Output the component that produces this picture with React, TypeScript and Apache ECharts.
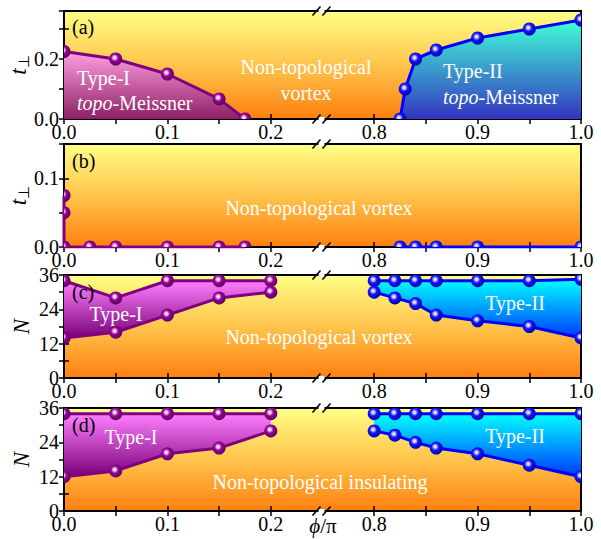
import React, { useEffect, useRef } from 'react';
import * as echarts from 'echarts';

const FONT = "'Liberation Serif', 'Times New Roman', Times, serif";

// ---- panel (a) ----
const phiA_I = [0, 0.05, 0.1, 0.15, 0.175];
const tA_I = [0.225, 0.2, 0.15, 0.067, 0];
const phiA_II = [0.825, 0.83, 0.84, 0.86, 0.9, 0.95, 1.0];
const tA_II = [0, 0.1, 0.2, 0.23, 0.27, 0.3, 0.33];
// ---- panel (b) ----
const phiB_I = [0, 0, 0, 0.025, 0.05, 0.1, 0.15, 0.175];
const tB_I = [0.075, 0.05, 0, 0, 0, 0, 0, 0];
const phiB_II = [0.825, 0.84, 0.86, 0.9, 1.0];
const tB_II = [0, 0, 0, 0, 0];
// ---- panel (c) ----
const phiC_I = [0, 0.05, 0.1, 0.15, 0.2];
const upC_I = [34, 28, 34, 34, 34];
const loC_I = [14, 16, 22, 28, 30];
const phiC_II = [0.8, 0.82, 0.84, 0.86, 0.9, 0.95, 1.0];
const upC_II = [34, 34, 34, 34, 34, 34, 34.5];
const loC_II = [30, 28, 26, 22, 20, 18, 14];
// ---- panel (d) ----
const phiD_I = [0, 0.05, 0.1, 0.15, 0.2];
const upD_I = [34, 34, 34, 34, 34];
const loD_I = [12, 14, 20, 22, 28];
const phiD_II = [0.8, 0.82, 0.84, 0.86, 0.9, 0.95, 1.0];
const upD_II = [34, 34, 34, 34, 34, 34, 34];
const loD_II = [28, 26.5, 24, 22, 20, 16, 12];

// axis ticks (real phi values)
const xTickValues = [0, 0.05, 0.1, 0.15, 0.2, 0.8, 0.85, 0.9, 0.95, 1.0];
const xLabelValues = [0, 0.1, 0.2, 0.8, 0.9, 1.0];
const panelLabels = ['(a)', '(b)', '(c)', '(d)'];

// broken axis: phi in [0,0.25] -> same, phi in [0.75,1] -> phi-0.5
const toAxis = (p: number) => (p > 0.5 ? p - 0.5 : p);
const fromAxis = (v: number) => (v > 0.25 ? v + 0.5 : v);
const BREAK = 0.25;

const GRIDS = [
  { top: 11, height: 108, yMax: 0.36, yInt: 0.1 },
  { top: 144, height: 103, yMax: 0.15, yInt: 0.05 },
  { top: 275, height: 103, yMax: 36, yInt: 6 },
  { top: 408, height: 103, yMax: 36, yInt: 6 },
];
const LEFT = 64;
const WIDTH = 517;

const PURPLE = '#800080';
const BLUE = '#0000FF';

const lin = (stops: [number, string][]) =>
  new echarts.graphic.LinearGradient(0, 0, 0, 1, stops.map(([offset, color]) => ({ offset, color })));

const sphere = (kind: 'p' | 'b') =>
  new echarts.graphic.RadialGradient(0.42, 0.4, 0.62, kind === 'p'
    ? [
        { offset: 0, color: '#ffffff' },
        { offset: 0.18, color: '#e8c8e8' },
        { offset: 0.45, color: '#960096' },
        { offset: 1, color: '#5a005a' },
      ]
    : [
        { offset: 0, color: '#ffffff' },
        { offset: 0.18, color: '#c8c8ff' },
        { offset: 0.45, color: '#1414ff' },
        { offset: 1, color: '#0000a8' },
      ]);

function lineSeries(gi: number, xs: number[], ys: number[], color: string, area?: any) {
  return {
    type: 'line',
    xAxisIndex: 2 * gi,
    yAxisIndex: 2 * gi,
    data: xs.map((p, i) => [toAxis(p), ys[i]]),
    symbol: 'none',
    showSymbol: false,
    lineStyle: { color, width: 3 },
    areaStyle: area ? { color: area, opacity: 1, origin: 'start' } : undefined,
    z: 3,
    silent: true,
  };
}

function markerSeries(gi: number, xs: number[], ys: number[], kind: 'p' | 'b') {
  return {
    type: 'custom',
    xAxisIndex: 2 * gi,
    yAxisIndex: 2 * gi,
    clip: true,
    z: 4,
    silent: true,
    data: xs.map((p, i) => [toAxis(p), ys[i]]),
    renderItem: (_params: any, api: any) => {
      const c = api.coord([api.value(0), api.value(1)]);
      return {
        type: 'circle',
        shape: { cx: c[0], cy: c[1], r: 6.5 },
        style: { fill: sphere(kind), stroke: 'none' },
      };
    },
  };
}

function bandSeries(gi: number, xs: number[], up: number[], lo: number[], fill: any) {
  return {
    type: 'custom',
    xAxisIndex: 2 * gi,
    yAxisIndex: 2 * gi,
    clip: true,
    z: 2,
    silent: true,
    data: [[toAxis(xs[0]), lo[0]]],
    renderItem: (_params: any, api: any) => {
      const top = xs.map((p, i) => api.coord([toAxis(p), up[i]]));
      const bot = xs.map((p, i) => api.coord([toAxis(p), lo[i]])).reverse();
      return { type: 'polygon', shape: { points: [...top, ...bot] }, style: { fill } };
    },
  };
}

function breakSeries(gi: number) {
  const yMax = GRIDS[gi].yMax;
  return {
    type: 'custom',
    xAxisIndex: 2 * gi,
    yAxisIndex: 2 * gi,
    clip: false,
    z: 10,
    silent: true,
    data: [[BREAK, 0]],
    renderItem: (_params: any, api: any) => {
      const children: any[] = [];
      [yMax, 0].forEach((yv) => {
        const c = api.coord([BREAK, yv]);
        const cx = c[0] - 1;
        const cy = c[1];
        children.push({ type: 'rect', shape: { x: cx - 3, y: cy - 2, width: 6, height: 4 }, style: { fill: '#ffffff' } });
        [-5, 5].forEach((dx) => {
          children.push({
            type: 'line',
            shape: { x1: cx + dx - 4, y1: cy + 4.5, x2: cx + dx + 4, y2: cy - 4.5 },
            style: { stroke: '#000', lineWidth: 1.6 },
          });
        });
      });
      return { type: 'group', children };
    },
  };
}

function fmtY(gi: number, v: number) {
  if (gi < 2) {
    const r = Math.round(v * 100);
    const step = gi === 0 ? 20 : 10;
    if (r % step !== 0 || v > GRIDS[gi].yMax - 1e-6) return '';
    return v.toFixed(1);
  }
  const r = Math.round(v);
  return r % 12 === 0 ? String(r) : '';
}

function fmtX(v: number) {
  const r = Math.round(v * 100);
  if (r % 10 !== 0) return '';
  return fromAxis(v).toFixed(1);
}

const App: React.FC = () => {
  const ref = useRef<HTMLDivElement>(null);

  useEffect(() => {
    if (!ref.current) return;
    const chart = echarts.init(ref.current, undefined, { renderer: 'svg' });

    const bg = () =>
      lin([
        [0, '#FFFF86'],
        [0.5, '#FFC44C'],
        [1, '#FF8010'],
      ]);

    const grid = GRIDS.map((g) => ({
      left: LEFT,
      width: WIDTH,
      top: g.top,
      height: g.height,
      show: true,
      backgroundColor: bg(),
      borderColor: '#000',
      borderWidth: 2,
      containLabel: false,
      outerBoundsMode: 'none',
    }));

    const tickCommon = {
      show: true,
      inside: true,
      length: 5,
      lineStyle: { color: '#000', width: 1.5 },
    };

    const xAxis: any[] = [];
    const yAxis: any[] = [];
    GRIDS.forEach((g, gi) => {
      const tickVals = xTickValues.map(toAxis);
      const labVals = xLabelValues.map(toAxis);
      xAxis.push({
        type: 'value',
        gridIndex: gi,
        position: 'bottom',
        min: 0,
        max: 0.5,
        interval: 0.05,
        axisLine: { show: false },
        splitLine: { show: false },
        axisTick: { ...tickCommon, customValues: tickVals },
        axisLabel: {
          show: true,
          customValues: labVals,
          formatter: (v: number) => fmtX(v),
          fontFamily: FONT,
          fontSize: 20,
          color: '#000',
          margin: 3,
          hideOverlap: false,
        },
      });
      xAxis.push({
        type: 'value',
        gridIndex: gi,
        position: 'top',
        min: 0,
        max: 0.5,
        interval: 0.05,
        axisLine: { show: false },
        splitLine: { show: false },
        axisTick: { ...tickCommon, customValues: tickVals },
        axisLabel: { show: false },
      });
      const isT = gi < 2;
      yAxis.push({
        type: 'value',
        gridIndex: gi,
        position: 'left',
        min: 0,
        max: g.yMax,
        interval: g.yInt,
        axisLine: { show: false },
        splitLine: { show: false },
        axisTick: { ...tickCommon },
        axisLabel: {
          show: true,
          formatter: (v: number) => fmtY(gi, v),
          fontFamily: FONT,
          fontSize: 20,
          color: '#000',
          margin: 5,
          showMaxLabel: gi >= 2,
          hideOverlap: false,
        },
        name: isT ? '{i|t}{s|⊥}' : '{i|N}',
        nameLocation: 'middle',
        nameRotate: 90,
        nameGap: isT ? 33 : 31,
        nameMoveOverlap: false,
        nameTextStyle: {
          fontFamily: FONT,
          fontSize: 22,
          color: '#000',
          rich: {
            i: { fontFamily: FONT, fontSize: 23, fontStyle: 'italic', color: '#000' },
            s: { fontFamily: FONT, fontSize: 15, color: '#000', padding: [10, 0, 0, 0] },
          },
        },
      });
      yAxis.push({
        type: 'value',
        gridIndex: gi,
        position: 'right',
        min: 0,
        max: g.yMax,
        interval: g.yInt,
        axisLine: { show: false },
        splitLine: { show: false },
        axisTick: { ...tickCommon },
        axisLabel: { show: false },
      });
    });

    const pinkA = lin([
      [0, '#FFA0E0'],
      [1, '#8E2064'],
    ]);
    const cyanA = lin([
      [0, '#40FFD8'],
      [1, '#3434C0'],
    ]);
    const pinkCD = () =>
      lin([
        [0, '#FF80FF'],
        [1, '#7A007A'],
      ]);
    const cyanCD = () =>
      lin([
        [0, '#00FFFF'],
        [1, '#0038FF'],
      ]);

    const series: any[] = [
      // (a)
      lineSeries(0, phiA_I, tA_I, PURPLE, pinkA),
      lineSeries(0, phiA_II, tA_II, BLUE, cyanA),
      markerSeries(0, phiA_I, tA_I, 'p'),
      markerSeries(0, phiA_II, tA_II, 'b'),
      // (b)
      lineSeries(1, phiB_I, tB_I, PURPLE),
      lineSeries(1, phiB_II, tB_II, BLUE),
      markerSeries(1, phiB_I, tB_I, 'p'),
      markerSeries(1, phiB_II, tB_II, 'b'),
      // (c)
      bandSeries(2, phiC_I, upC_I, loC_I, pinkCD()),
      bandSeries(2, phiC_II, upC_II, loC_II, cyanCD()),
      lineSeries(2, phiC_I, upC_I, PURPLE),
      lineSeries(2, phiC_I, loC_I, PURPLE),
      lineSeries(2, phiC_II, upC_II, BLUE),
      lineSeries(2, phiC_II, loC_II, BLUE),
      markerSeries(2, phiC_I, upC_I, 'p'),
      markerSeries(2, phiC_I, loC_I, 'p'),
      markerSeries(2, phiC_II, upC_II, 'b'),
      markerSeries(2, phiC_II, loC_II, 'b'),
      // (d)
      bandSeries(3, phiD_I, upD_I, loD_I, pinkCD()),
      bandSeries(3, phiD_II, upD_II, loD_II, cyanCD()),
      lineSeries(3, phiD_I, upD_I, PURPLE),
      lineSeries(3, phiD_I, loD_I, PURPLE),
      lineSeries(3, phiD_II, upD_II, BLUE),
      lineSeries(3, phiD_II, loD_II, BLUE),
      markerSeries(3, phiD_I, upD_I, 'p'),
      markerSeries(3, phiD_I, loD_I, 'p'),
      markerSeries(3, phiD_II, upD_II, 'b'),
      markerSeries(3, phiD_II, loD_II, 'b'),
      // breaks
      breakSeries(0),
      breakSeries(1),
      breakSeries(2),
      breakSeries(3),
    ];

    const txt = (x: number, y: number, text: string, align: string, color = '#fff', size = 20) => ({
      type: 'text',
      x,
      y,
      z: 100,
      silent: true,
      style: {
        text,
        fill: color,
        fontFamily: FONT,
        fontSize: size,
        textAlign: align,
        textVerticalAlign: 'middle',
        rich: {
          i: { fontFamily: FONT, fontSize: size, fontStyle: 'italic', fill: color, color },
        },
      },
    });

    const graphic: any[] = [
      txt(72, 27, panelLabels[0], 'left', '#000'),
      txt(72, 161, panelLabels[1], 'left', '#000'),
      txt(72, 292, panelLabels[2], 'left', '#000'),
      txt(72, 425, panelLabels[3], 'left', '#000'),
      // (a)
      txt(77, 78, 'Type-I', 'left'),
      txt(77, 103, '{i|topo}-Meissner', 'left'),
      txt(306, 67, 'Non-topological', 'center'),
      txt(306, 93, 'vortex', 'center'),
      txt(443, 71, 'Type-II', 'left'),
      txt(443, 97, '{i|topo}-Meissner', 'left'),
      // (b)
      txt(319, 208, 'Non-topological vortex', 'center'),
      // (c)
      txt(116, 314, 'Type-I', 'center'),
      txt(319, 337, 'Non-topological vortex', 'center'),
      txt(515, 303, 'Type-II', 'center'),
      // (d)
      txt(131, 437, 'Type-I', 'center'),
      txt(320, 482, 'Non-topological insulating', 'center'),
      txt(515, 436, 'Type-II', 'center'),
      // x-axis title
      txt(323, 526, '{i|ϕ}/π', 'center', '#000', 21),
    ];

    chart.setOption({
      animation: false,
      backgroundColor: '#ffffff',
      grid,
      xAxis,
      yAxis,
      series,
      graphic,
    });

    return () => {
      chart.dispose();
    };
  }, []);

  return (
    <div
      ref={ref}
      style={{ position: 'fixed', left: 0, top: 0, width: 601, height: 539, background: '#fff' }}
    />
  );
};

export default App;
